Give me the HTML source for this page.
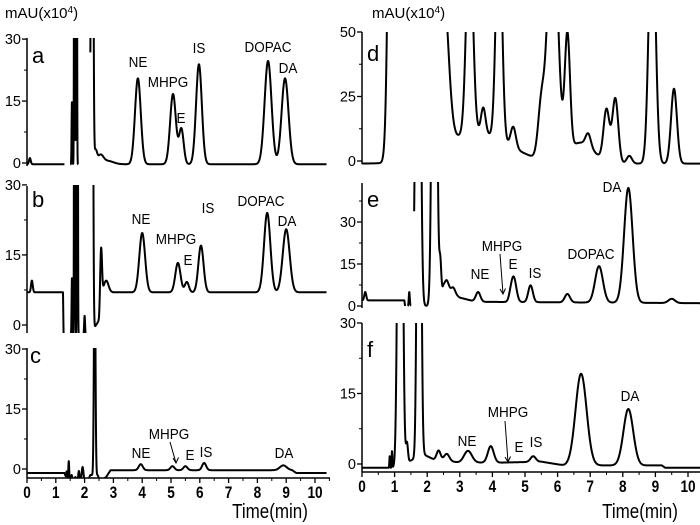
<!DOCTYPE html>
<html><head><meta charset="utf-8">
<style>
html,body{margin:0;padding:0;background:#fff;width:700px;height:525px;overflow:hidden}
svg{display:block;font-family:"Liberation Sans",sans-serif}
.lab{font-size:15px;fill:#000}
.tk{font-size:14.5px;fill:#000}
.xt{font-size:17px;font-weight:bold;fill:#000}
</style></head>
<body>
<svg id="fig" width="700" height="525" viewBox="0 0 700 525">
<text x="5" y="18" class="lab">mAU(x10<tspan dy="-5" font-size="10">4</tspan><tspan dy="5">)</tspan></text>
<text x="372" y="18" class="lab">mAU(x10<tspan dy="-5" font-size="10">4</tspan><tspan dy="5">)</tspan></text>
<text x="270" y="518" text-anchor="middle" font-size="20" transform="translate(270 0) scale(0.85 1) translate(-270 0)">Time(min)</text>
<text x="640" y="518" text-anchor="middle" font-size="20" transform="translate(640 0) scale(0.85 1) translate(-640 0)">Time(min)</text>
</svg>
<script>
// ---- data: peaks [retention time (min), height (x10^4 mAU), sigma (min)] ----
const peaksA=[[0.1,1.5,0.03],[1.56,15,0.012],[1.65,200,0.012],[1.72,200,0.012],[2.26,200,0.03],[2.38,3,0.05],[2.55,2,0.1],[2.8,0.8,0.2],[3.85,20.8,0.1],[5.07,17,0.1],[5.36,8.5,0.08],[5.97,24.2,0.1],[8.37,25,0.12],[8.96,20.8,0.12]];
const baseA=[[0,-0.3],[10.4,-0.3]];
const segsA=[[0,1.3],[1.5,1.78],[2.2,10.4]];

const peaksB=[[0.17,2.5,0.03],[1.56,12,0.012],[1.65,200,0.012],[1.75,200,0.012],[2.0,4,0.015],[2.25,200,0.03],[2.57,11,0.03],[2.75,2.5,0.08],[4.0,12.7,0.1],[5.24,6.3,0.09],[5.55,2.2,0.07],[6.04,10,0.09],[8.34,17,0.11],[9.0,13.5,0.12]];
const baseB=[[0,7],[1.25,7],[1.27,-2],[2.2,-2],[2.5,1],[2.6,7],[10.4,7]];
const segsB=[[0,1.3],[1.5,1.8],[1.95,2.05],[2.2,10.4]];

const peaksC=[[1.38,2,0.015],[1.45,5,0.015],[1.55,1.5,0.02],[1.68,1,0.02],[1.8,2.5,0.02],[1.93,3.5,0.03],[2.35,60,0.025],[3.95,1.5,0.07],[5.05,1,0.07],[5.5,1,0.07],[6.15,1.8,0.07],[8.9,1.2,0.12]];
const baseC=[[0,-1],[1.3,-1],[1.4,-3],[2.1,-3],[2.2,-1.5],[2.45,-1.5],[2.55,-3],[2.75,-2],[2.9,-0.3],[9.2,-0.3],[9.35,-1],[10.4,-1]];
const segsC=[[0,10.4]];

const peaksD=[[0.95,300,0.1],[2.15,80,0.05],[2.3,70,0.05],[2.5,60,0.15],[3.5,12,1.0],[3.3,80,0.1],[3.72,10,0.07],[4.2,90,0.09],[4.64,8,0.08],[5.5,20,0.1],[5.85,100,0.15],[6.3,45,0.08],[6.7,8,0.4],[6.94,5,0.08],[7.5,20,0.09],[7.77,25,0.09],[8.2,3,0.08],[8.9,100,0.1],[9.57,29,0.09]];
const baseD=[[0,-1],[10.4,-1]];
const segsD=[[0,0.9],[2.1,10.4]];

const peaksE=[[0.1,3,0.03],[1.45,5,0.015],[1.72,250,0.06],[2.22,250,0.06],[2.4,12,0.03],[2.6,3,0.06],[2.8,2,0.06],[3.56,3.5,0.07],[4.55,1,0.05],[4.65,9,0.08],[5.17,6,0.07],[6.3,3,0.08],[7.27,13,0.12],[8.17,41,0.13],[9.5,1.5,0.1]];
const baseE=[[0,2],[1.3,2],[1.32,0],[2.3,0],[2.5,7],[3.0,3],[3.5,1.5],[10.4,1]];
const segsE=[[0,1.32],[1.4,1.5],[1.6,10.4]];

const peaksF=[[0.85,2.5,0.01],[0.92,3.5,0.01],[1.17,150,0.06],[1.38,4,0.03],[1.75,150,0.05],[2.35,2,0.06],[2.6,1.5,0.08],[3.25,2.5,0.12],[3.95,3.5,0.09],[5.25,1.2,0.08],[6.72,19.5,0.17],[8.17,12,0.15]];
const baseF=[[0,-0.8],[1.0,-0.8],[1.9,2],[2.2,1],[3.0,0.3],[4.3,0.3],[5.5,0.5],[6.2,-0.3],[9.2,-0.3],[9.3,-0.8],[10.4,-0.8]];
const segsF=[[0,10.4]];

const xTicks=[0,1,2,3,4,5,6,7,8,9,10];
const ticksA=[0,15,30], ticksD=[0,25,50];

// ---- layout ----
const NS="http://www.w3.org/2000/svg";
const svg=document.getElementById('fig');
const XL={x0:27,k:28.8,end:330}, XR={x0:362,k:32.6,end:700};
const panels=[
 {id:'a',X:XL,y0:163,k:4.13,top:38,bot:170,axTop:38,axBot:166,ticks:ticksA,minor:[7.5,22.5],peaks:peaksA,base:baseA,segs:segsA,lx:32,ly:63},
 {id:'b',X:XL,y0:325,k:4.67,top:185,bot:333,axTop:186,axBot:333,ticks:ticksA,minor:[7.5,22.5],peaks:peaksB,base:baseB,segs:segsB,lx:32,ly:207},
 {id:'c',X:XL,y0:469,k:4.0,top:348,bot:478,axTop:348,axBot:478,ticks:ticksA,minor:[7.5,22.5],peaks:peaksC,base:baseC,segs:segsC,lx:30,ly:363},
 {id:'d',X:XR,y0:161,k:2.58,top:32,bot:166,axTop:32,axBot:164,ticks:ticksD,minor:[12.5,37.5],peaks:peaksD,base:baseD,segs:segsD,lx:367,ly:61},
 {id:'e',X:XR,y0:306,k:2.8,top:182,bot:310,axTop:183,axBot:308,ticks:ticksA,minor:[7.5,22.5,37.5],peaks:peaksE,base:baseE,segs:segsE,lx:367,ly:207},
 {id:'f',X:XR,y0:464,k:4.7,top:323,bot:472,axTop:323,axBot:472,ticks:ticksA,minor:[7.5,22.5],peaks:peaksF,base:baseF,segs:segsF,lx:367,ly:357}
];
function mk(tag,attrs){const e=document.createElementNS(NS,tag);for(const k in attrs)e.setAttribute(k,attrs[k]);return e;}
function baseAt(b,t){for(let i=0;i<b.length-1;i++){if(t>=b[i][0]&&t<=b[i+1][0]){const f=(t-b[i][0])/((b[i+1][0]-b[i][0])||1);return b[i][1]+f*(b[i+1][1]-b[i][1]);}}return b[b.length-1][1];}
function val(p,t){let v=baseAt(p.base,t);for(const pk of p.peaks){const d=t-pk[0];v+=pk[1]*Math.exp(-d*d/(2*pk[2]*pk[2]));}return v;}

const defs=mk('defs',{});svg.appendChild(defs);
panels.forEach(p=>{
 const X=p.X, sx=t=>X.x0+X.k*t, sy=v=>p.y0-p.k*v;
 const cp=mk('clipPath',{id:'clip-'+p.id});
 cp.appendChild(mk('rect',{x:X.x0,y:p.top,width:X.end-X.x0,height:p.bot-p.top}));
 defs.appendChild(cp);
 const ax=mk('line',{x1:X.x0,y1:p.axTop,x2:X.x0,y2:p.axBot,stroke:'#000','stroke-width':1.5});
 
 
 svg.appendChild(ax);
 p.ticks.forEach(v=>{
  const tl=mk('line',{x1:X.x0-5,y1:sy(v),x2:X.x0,y2:sy(v),stroke:'#000','stroke-width':1.3});
  
  
  svg.appendChild(tl);
  const tx=mk('text',{x:X.x0-6,y:sy(v)+5,'text-anchor':'end',class:'tk'});
  tx.textContent=v;
  
  
  svg.appendChild(tx);
 });
 p.minor.forEach(v=>{
  if(sy(v)<p.axTop)return;
  const tl=mk('line',{x1:X.x0-3,y1:sy(v),x2:X.x0,y2:sy(v),stroke:'#000','stroke-width':1});
  
  
  svg.appendChild(tl);
 });
 let d='';
 p.segs.forEach(s=>{
  let first=true;
  for(let t=s[0];t<=s[1]+1e-9;t+=0.004){
   d+=(first?'M':'L')+sx(t).toFixed(2)+' '+sy(val(p,t)).toFixed(2);first=false;
  }
 });
 const path=mk('path',{d:d,fill:'none',stroke:'#000','stroke-width':2,'stroke-linejoin':'round','clip-path':'url(#clip-'+p.id+')'});
 
 
 svg.appendChild(path);
 const lt=mk('text',{x:p.lx,y:p.ly,'font-size':22});
 lt.textContent=p.id;
 
 
 svg.appendChild(lt);
});
[[XL,478],[XR,472]].forEach((a,i)=>{
 const X=a[0],y=a[1];
 const ax=mk('line',{x1:X.x0,y1:y,x2:X.end,y2:y,stroke:'#000','stroke-width':1.5});
 
 
 svg.appendChild(ax);
 xTicks.forEach(t=>{
  const x=X.x0+X.k*t;
  const tl=mk('line',{x1:x,y1:y,x2:x,y2:y+5,stroke:'#000','stroke-width':1.3});
  
  
  svg.appendChild(tl);
  const mx=X.x0+X.k*(t+0.5);
  if(mx<X.end){const m=mk('line',{x1:mx,y1:y,x2:mx,y2:y+3,stroke:'#000','stroke-width':1});
  
  
  svg.appendChild(m);}
  const tx=mk('text',{x:x,y:y+20,'text-anchor':'middle',class:'xt',transform:'translate('+x+' 0) scale(0.8 1) translate('+(-x)+' 0)'});
  tx.textContent=t;
  
  
  svg.appendChild(tx);
 });
});
const annText=['NE','MHPG','E','IS','DOPAC','DA','NE','MHPG','E','IS','DOPAC','DA','NE','MHPG','E','IS','DA','NE','MHPG','E','IS','DOPAC','DA','NE','MHPG','E','IS','DA'];
const annX=[138,168,181,199,268,288,141,176,188,208,261,287,141,169,190,206,284,480,502,513,535,591,612,467,508,519,536,630];
const annY=[67,87,123,53,52,73,224,244,265,213,206,226,458,439,460,457,458,279,251,269,278,259,192,446,417,452,447,401];
annText.forEach((s,i)=>{
 const tx=mk('text',{x:annX[i],y:annY[i],'text-anchor':'middle',class:'lab',transform:'translate('+annX[i]+' 0) scale(0.9 1) translate('+(-annX[i])+' 0)'});
 tx.textContent=s;
 
 
 svg.appendChild(tx);
});
[[170,442,176,463],[500,254,503,294],[505,421,508,462]].forEach(a=>{
 const l=mk('path',{d:'M'+a[0]+' '+a[1]+'L'+a[2]+' '+a[3]+'M'+(a[2]-3)+' '+(a[3]-5)+'L'+a[2]+' '+a[3]+'L'+(a[2]+2.5)+' '+(a[3]-5.5),fill:'none',stroke:'#000','stroke-width':1});
 
 
 svg.appendChild(l);
});
</script>
</body></html>
